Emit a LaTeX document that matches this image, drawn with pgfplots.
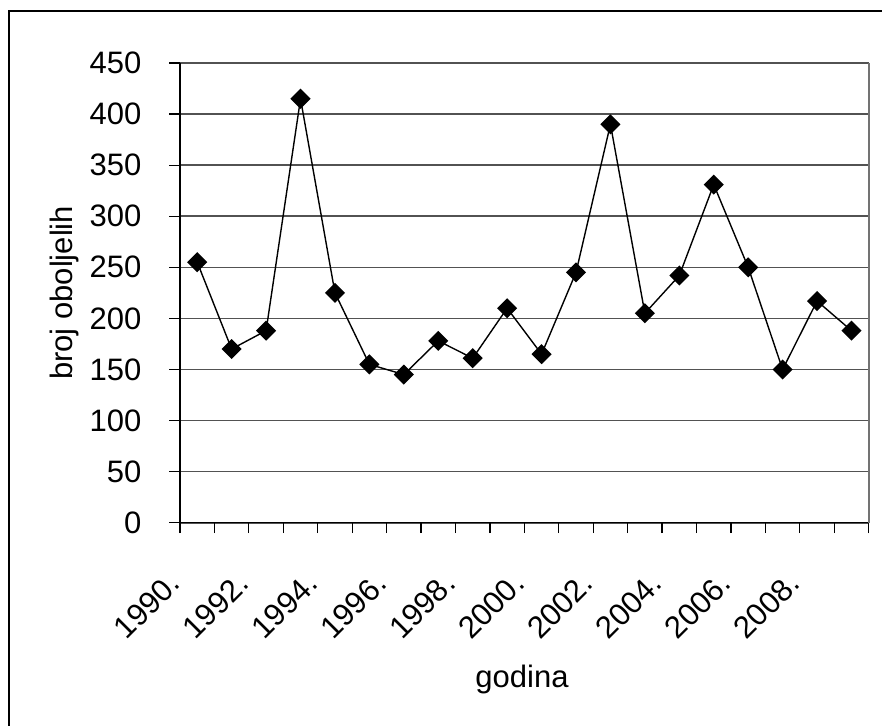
\documentclass[border=0pt]{standalone}
\usepackage{fontspec}
\setmainfont{Liberation Sans}
\usepackage{pgfplots}
\pgfplotsset{compat=1.18}
\pgfplotstableread{
x y
0.5 255
1.5 170
2.5 188
3.5 415
4.5 225
5.5 155
6.5 145
7.5 178
8.5 161
9.5 210
10.5 165
11.5 245
12.5 390
13.5 205
14.5 242
15.5 331
16.5 250
17.5 150
18.5 217
19.5 188
}\datatable
\begin{document}
\begin{tikzpicture}
\useasboundingbox (0,0) rectangle (441pt,362.5pt);
\draw[line width=1pt] (4.5pt,-2pt) -- (4.5pt,357pt) -- (443pt,357pt);
\begin{axis}[
  at={(90pt,101.15pt)}, anchor=south west,
  width=344.35pt, height=229.85pt, scale only axis,
  xmin=0, xmax=20, ymin=0, ymax=450,
  axis x line*=bottom, axis y line*=left,
  axis line style={black, line width=0.6pt, -},
  xtick={0,...,20},
  xticklabels={1990.,{},1992.,{},1994.,{},1996.,{},1998.,{},2000.,{},2002.,{},2004.,{},2006.,{},2008.,{},{}},
  ytick={0,50,...,450},
  tick align=outside,
  major tick length=5.25pt,
  tick style={black, line width=0.6pt},
  ymajorgrids,
  major grid style={black!68, line width=0.8pt},
  extra x ticks={20}, extra x tick labels={},
  extra x tick style={grid=major, major grid style={black!55, line width=0.9pt}},
  /pgf/number format/assume math mode=true,
  ticklabel style={font=\fontsize{15.5}{18}\selectfont},
  xticklabel style={xshift=-0.4pt, yshift=-20pt, rotate=45, anchor=east},
  yticklabel style={anchor=east, xshift=-10.5pt},
  label style={font=\fontsize{15.5}{18}\selectfont},
  ylabel={broj oboljelih},
  ylabel style={at={(axis description cs:-0.1684,0.5)}, anchor=center},
  xlabel={godina},
  xlabel style={at={(axis description cs:0.4966,-0.3574)}, anchor=base},
  clip=false,
]
\addplot[black, line width=0.7pt, mark=square*, mark size=3.2pt,
  mark options={rotate=45, fill=black, draw=black}] table[x=x,y=y] {\datatable};
\end{axis}
\end{tikzpicture}
\end{document}
